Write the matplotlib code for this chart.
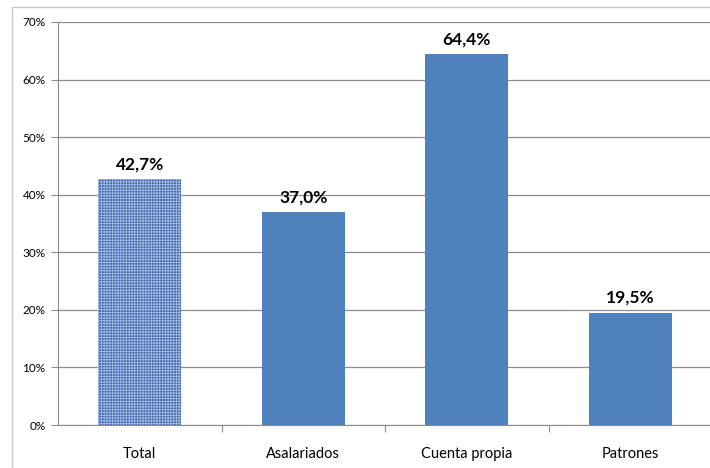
import matplotlib
matplotlib.use("Agg")
import matplotlib.pyplot as plt
from matplotlib.patches import Rectangle

categories = ["Total", "Asalariados", "Cuenta propia", "Patrones"]
values = [42.7, 37.0, 64.4, 19.5]
labels = ["42,7%", "37,0%", "64,4%", "19,5%"]
yticks = [0, 10, 20, 30, 40, 50, 60, 70]

plt.rcParams['font.family'] = ['Lato', 'DejaVu Sans']
plt.rcParams['hatch.linewidth'] = 0.7

fig = plt.figure(figsize=(7.1, 4.68), dpi=100)
# outer chart border (cropped at right/bottom)
fig.patches.append(Rectangle((12 / 710, -0.1), 1.2, 1 - 7 / 468 + 0.1,
                             transform=fig.transFigure, fill=False,
                             edgecolor='#c8c8c8', linewidth=1.0))
ax = fig.add_axes([58 / 710, 1 - 425 / 468, 654 / 710, 403 / 468])

x = list(range(len(categories)))
bars = ax.bar(x, values, width=0.51, color='#4f81bd', zorder=3)
bars[0].set_facecolor('#3f62a6')
bars[0].set_hatch('++++++')
bars[0].set_edgecolor('#9db6e2')
bars[0].set_linewidth(0)

for xi, v, lab in zip(x, values, labels):
    ax.text(xi, v + 1.2, lab, ha='center', va='bottom', fontsize=12.5,
            fontweight='bold', color='black')

ax.set_xlim(-0.5, 3.5)
ax.set_ylim(0, 70)
ax.set_yticks(yticks)
ax.set_yticklabels([f"{t}%" for t in yticks], fontsize=8.5)
ax.yaxis.grid(True, color='#8c8c8c', linewidth=0.9, zorder=0)
ax.set_axisbelow(True)

ax.set_xticks([0.5, 1.5, 2.5])
ax.set_xticklabels([])
ax.set_xticks(x, minor=True)
ax.set_xticklabels(categories, minor=True, fontsize=10.5)
ax.tick_params(axis='x', which='minor', length=0, pad=16)
ax.tick_params(axis='x', which='major', length=5, direction='out', color='#8c8c8c')
ax.tick_params(axis='y', length=5, direction='out', color='#8c8c8c', pad=4)

for s in ['top', 'right']:
    ax.spines[s].set_visible(False)
ax.spines['left'].set_color('#8c8c8c')
ax.spines['bottom'].set_color('#8c8c8c')

fig.savefig("out.png", dpi=100)
